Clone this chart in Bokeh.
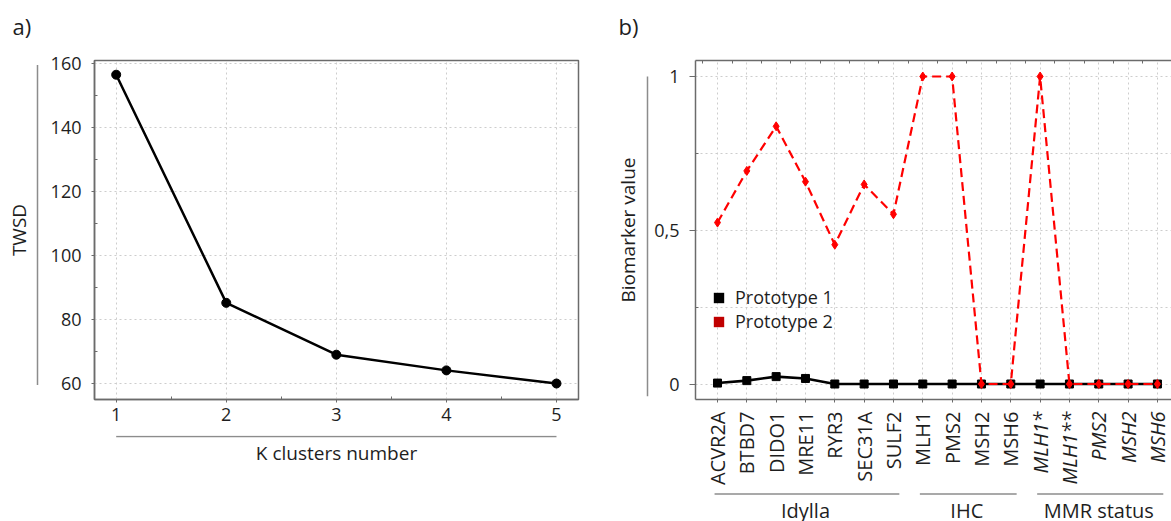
import math
from bokeh.plotting import figure
from bokeh.models import (Range1d, FixedTicker, LinearAxis, Legend, LegendItem,
                          ColumnDataSource, Grid)
from bokeh.layouts import row, column
from bokeh.embed import file_html
from bokeh.resources import INLINE
from bokeh.core.properties import value

# ---------------- data ----------------
k_clusters = [1, 2, 3, 4, 5]
twsd = [156.5, 85.2, 69.0, 64.1, 60.0]
twsd_ticks = [60, 80, 100, 120, 140, 160]

biomarkers = ["ACVR2A", "BTBD7", "DIDO1", "MRE11", "RYR3", "SEC31A", "SULF2",
              "MLH1", "PMS2", "MSH2", "MSH6",
              "MLH1*", "MLH1**", "PMS2", "MSH2", "MSH6"]
biomarker_groups = ["Idylla"] * 7 + ["IHC"] * 4 + ["MMR status"] * 5
group_names = ["Idylla", "IHC", "MMR status"]
prototype_1 = [0.003, 0.011, 0.024, 0.018, 0, 0, 0, 0, 0, 0, 0, 0, 0, 0, 0, 0]
prototype_2 = [0.525, 0.693, 0.838, 0.658, 0.453, 0.649, 0.552,
               1, 1, 0, 0, 1, 0, 0, 0, 0]
bio_ticks = [0, 0.5, 1]
bio_tick_labels = ["0", "0,5", "1"]
series_names = ["Prototype 1", "Prototype 2"]
panel_names = ["a)", "b)"]
axis_titles = ["TWSD", "K clusters number", "Biomarker value"]

# ---------------- style / geometry ----------------
FONT = "Open Sans"
TXT = "#1e1e1e"
FRAME = "#6b6b6b"
GRID = "#cdcdcd"
SIDE = "#8c8c8c"
H = 521            # page height
TOP = 60           # border above both frames
FH = 339           # frame height of both panels
BOT = H - TOP - FH


def base_axis(ax, tick_out, standoff):
    ax.axis_line_color = FRAME
    ax.axis_line_width = 1.5
    ax.major_tick_line_color = FRAME
    ax.major_tick_out = tick_out
    ax.major_tick_in = 0
    ax.minor_tick_line_color = FRAME
    ax.minor_tick_in = 3
    ax.minor_tick_out = 0
    ax.major_label_text_font = FONT
    ax.major_label_text_font_size = "18px"
    ax.major_label_text_color = TXT
    ax.major_label_standoff = standoff


def style_grid(p):
    for g in p.grid:
        g.grid_line_color = GRID
        g.grid_line_dash = "2 3"
        g.grid_line_width = 1


def strip(width, height, x_range, y_range, left=0, right=0):
    s = figure(frame_width=width, frame_height=height,
               min_border_left=left, min_border_right=right, min_border_top=0, min_border_bottom=0,
               x_range=x_range, y_range=y_range, x_axis_location=None, y_axis_location=None,
               output_backend="svg", toolbar_location=None, tools="")
    s.outline_line_color = None
    for g in s.select(type=Grid):
        g.visible = False
    return s


def side_strip(width, main_range, line_x, title_x, letter_x, bounds, title, letter):
    lo, hi = main_range.start, main_range.end
    ppu = FH / (hi - lo)
    s = strip(width, H, Range1d(0, width), Range1d(lo - BOT / ppu, hi + TOP / ppu))
    s.segment(x0=[line_x], x1=[line_x], y0=[bounds[0]], y1=[bounds[1]],
              line_color=SIDE, line_width=1.5)
    s.text(x=[title_x], y=[(lo + hi) / 2], text=[title], angle=math.pi / 2,
           text_align="center", text_baseline="middle", text_font=value(FONT),
           text_font_size="19px", text_color=TXT)
    s.text(x=[letter_x], y=[hi + (TOP - 25) / ppu], text=[letter],
           text_align="left", text_baseline="middle", text_font=value(FONT),
           text_font_size="22px", text_color=TXT)
    return s


# ---------------- panel a ----------------
pa = figure(frame_width=484, frame_height=FH,
            min_border_left=48, min_border_right=22, min_border_top=TOP, min_border_bottom=36,
            x_range=Range1d(0.803, 5.2), y_range=Range1d(55.0, 160.94),
            output_backend="svg", toolbar_location=None, tools="")
pa.outline_line_color = FRAME
pa.outline_line_width = 1.5
base_axis(pa.xaxis[0], 3, 5)
base_axis(pa.yaxis[0], 3, 10)
pa.xaxis[0].ticker = FixedTicker(ticks=k_clusters,
                                 minor_ticks=[k + 0.5 for k in k_clusters[:-1]])
pa.yaxis[0].ticker = FixedTicker(ticks=twsd_ticks,
                                 minor_ticks=[t + 10 for t in twsd_ticks[:-1]])
style_grid(pa)
pa.line(k_clusters, twsd, line_color="black", line_width=2.5)
pa.scatter(k_clusters, twsd, marker="circle", size=9, fill_color="black", line_color="black")

a_left = side_strip(46, pa.y_range, 37, 18.5, 12, (59.5, 159.5), axis_titles[0], panel_names[0])

a_bottom = strip(484, H - TOP - FH - 36, pa.x_range, Range1d(H - TOP - FH - 36, 0), left=48, right=22)
a_bottom.segment(x0=[k_clusters[0]], x1=[k_clusters[-1]], y0=[1], y1=[1],
                 line_color=SIDE, line_width=1.5)
a_bottom.text(x=[(pa.x_range.start + pa.x_range.end) / 2], y=[17], text=[axis_titles[1]],
              text_align="center", text_baseline="middle", text_font=value(FONT),
              text_font_size="19px", text_color=TXT)

# ---------------- panel b ----------------
idx = list(range(len(biomarkers)))
pb = figure(frame_width=476, frame_height=FH,
            min_border_left=45, min_border_right=0, min_border_top=TOP, min_border_bottom=10,
            x_range=Range1d(-0.75, 15.48), y_range=Range1d(-0.0504, 1.052),
            output_backend="svg", toolbar_location=None, tools="")
pb.outline_line_color = None
base_axis(pb.xaxis[0], 3, 0)
base_axis(pb.yaxis[0], 6, 10)
pb.xaxis[0].ticker = FixedTicker(ticks=[], minor_ticks=idx)
pb.xaxis[0].minor_tick_out = 3
pb.xaxis[0].minor_tick_in = 0
pb.xgrid[0].ticker = FixedTicker(ticks=idx)
pb.yaxis[0].ticker = FixedTicker(ticks=bio_ticks, minor_ticks=[0.25, 0.75])
pb.yaxis[0].major_label_overrides = {float(t): l for t, l in zip(bio_ticks, bio_tick_labels)}
style_grid(pb)
pb.ygrid[0].minor_grid_line_color = GRID
pb.ygrid[0].minor_grid_line_dash = "2 3"
top_ax = LinearAxis(ticker=FixedTicker(ticks=[], minor_ticks=[-0.5] + [i + 0.5 for i in idx]),
                    axis_line_color=FRAME, axis_line_width=1.5,
                    major_tick_line_color=None, major_tick_out=0, major_tick_in=0,
                    minor_tick_line_color=FRAME, minor_tick_in=3, minor_tick_out=0,
                    major_label_standoff=0)
pb.add_layout(top_ax, "above")

pb.line(idx, prototype_1, line_color="black", line_width=2.6)
pb.scatter(idx, prototype_1, marker="square", size=8, fill_color="black", line_color="black")
pb.line(idx, prototype_2, line_color="#ff0000", line_width=2.2, line_dash="9 5")
pb.scatter(idx, prototype_2, marker="diamond", size=9, fill_color="#ff0000", line_color="#ff0000")

nan = float("nan")
legend_colors = ["black", "#c00000"]
legend_items = []
for name, col in zip(series_names, legend_colors):
    r = pb.rect([nan], [nan], width=1, height=1, fill_color=col, line_color=None)
    legend_items.append(LegendItem(label=name, renderers=[r]))
legend = Legend(items=legend_items, location=(17, 66), orientation="vertical",
                glyph_width=13, glyph_height=13, label_height=19, spacing=0,
                padding=0, margin=0, label_standoff=10,
                label_text_font=FONT, label_text_font_size="18px", label_text_color=TXT,
                background_fill_alpha=0, border_line_color=None)
pb.add_layout(legend, "center")

b_left = side_strip(50, pb.y_range, 47, 27, 18, (-0.04, 1.0), axis_titles[2], panel_names[1])

# ---------------- lower annotation strip for panel b ----------------
LOW = H - TOP - FH - 10
pl = strip(476, LOW, pb.x_range, Range1d(LOW, 0), left=45)

lab_src = ColumnDataSource(dict(
    x=idx, y=[2] * len(idx), text=biomarkers,
    style=["italic" if g == "MMR status" else "normal" for g in biomarker_groups]))
pl.text(x="x", y="y", text="text", source=lab_src, angle=math.pi / 2,
        text_align="right", text_baseline="middle", text_font=value(FONT),
        text_font_size="20px", text_color=TXT, text_font_style="style")

g_start = [biomarker_groups.index(g) for g in group_names]
g_end = [len(biomarker_groups) - 1 - biomarker_groups[::-1].index(g) for g in group_names]
pl.segment(x0=[s - 0.1 for s in g_start], x1=[e + 0.2 for e in g_end],
           y0=[84.5] * 3, y1=[84.5] * 3, line_color=SIDE, line_width=1.5)
pl.text(x=[(s + e) / 2 for s, e in zip(g_start, g_end)], y=[101] * 3, text=group_names,
        text_align="center", text_baseline="alphabetic", text_font=value(FONT),
        text_font_size="20px", text_color=TXT)

layout = row(a_left, column(pa, a_bottom), b_left, column(pb, pl))
open("out.html", "w").write(file_html(layout, INLINE))
